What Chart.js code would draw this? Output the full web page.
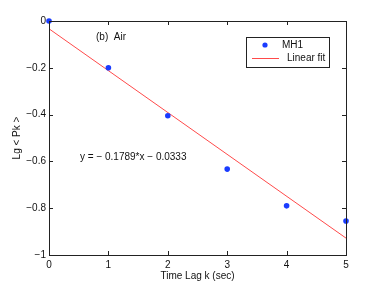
<!DOCTYPE html>
<html>
<head>
<meta charset="utf-8">
<script src="https://cdn.jsdelivr.net/npm/chart.js@4.4.1/dist/chart.umd.min.js"></script>
<style>
  html, body { margin: 0; padding: 0; background: #fff; }
  #wrap { width: 382px; height: 287px; }
</style>
</head>
<body>
<div id="wrap"><canvas id="c" width="382" height="287"></canvas></div>
<script>
// --- Data ---
const lags = [0, 1, 2, 3, 4, 5];
const lgPk = [0, -0.2, -0.405, -0.633, -0.79, -0.855];
const fitSlope = -0.1789;
const fitIntercept = -0.0333;
const fitX = [0, 5];
const xTicks = [0, 1, 2, 3, 4, 5];
const yTicks = [0, -0.2, -0.4, -0.6, -0.8, -1];

const FONT = '"Liberation Sans", Arial, sans-serif';
const fmt = v => (v < 0 ? '\u2212' + String(Math.abs(v)) : String(v));

// box, inward ticks, labels and legend, drawn like a MATLAB axes
const matlabAxes = {
    id: 'matlabAxes',
    afterDraw(chart) {
        const { ctx, chartArea: a, scales: { x, y } } = chart;
        ctx.save();
        ctx.strokeStyle = '#222';
        ctx.lineWidth = 1;
        ctx.strokeRect(Math.round(a.left) + 0.5, Math.round(a.top) + 0.5,
            Math.round(a.right - a.left), Math.round(a.bottom - a.top));

        const tl = 4;
        ctx.beginPath();
        xTicks.forEach(t => {
            const px = Math.round(x.getPixelForValue(t)) + 0.5;
            ctx.moveTo(px, a.bottom); ctx.lineTo(px, a.bottom - tl);
            ctx.moveTo(px, a.top); ctx.lineTo(px, a.top + tl);
        });
        yTicks.forEach(t => {
            const py = Math.round(y.getPixelForValue(t)) + 0.5;
            ctx.moveTo(a.left, py); ctx.lineTo(a.left + tl, py);
            ctx.moveTo(a.right, py); ctx.lineTo(a.right - tl, py);
        });
        ctx.stroke();

        // tick labels
        ctx.fillStyle = '#111';
        ctx.font = '10px ' + FONT;
        ctx.textAlign = 'center';
        ctx.textBaseline = 'top';
        xTicks.forEach(t => ctx.fillText(fmt(t), x.getPixelForValue(t), a.bottom + 5));
        ctx.textAlign = 'right';
        ctx.textBaseline = 'middle';
        yTicks.forEach(t => ctx.fillText(fmt(t), a.left - 3, y.getPixelForValue(t)));

        // axis titles
        ctx.textAlign = 'center';
        ctx.textBaseline = 'middle';
        ctx.fillText('Time Lag k (sec)', (a.left + a.right) / 2, 276);
        ctx.save();
        ctx.translate(17, (a.top + a.bottom) / 2);
        ctx.rotate(-Math.PI / 2);
        ctx.fillText('Lg < Pk >', 0, 0);
        ctx.restore();

        // annotations
        ctx.textAlign = 'left';
        ctx.fillText('(b)  Air', 96, 37);
        ctx.fillText('y = \u2212 0.1789*x \u2212 0.0333', 80, 157);

        // legend
        const lx = 246, ly = 37, lw = 83, lh = 30;
        ctx.fillStyle = '#fff';
        ctx.fillRect(lx, ly, lw, lh);
        ctx.strokeStyle = '#222';
        ctx.strokeRect(lx + 0.5, ly + 0.5, lw, lh);
        ctx.fillStyle = '#1a3cff';
        ctx.beginPath();
        ctx.arc(265, 45, 2.6, 0, Math.PI * 2);
        ctx.fill();
        ctx.strokeStyle = '#ff4a4a';
        ctx.beginPath();
        ctx.moveTo(252, 58.5); ctx.lineTo(279, 58.5);
        ctx.stroke();
        ctx.fillStyle = '#111';
        ctx.fillText('MH1', 282, 45);
        ctx.fillText('Linear fit', 287, 58);
        ctx.restore();
    }
};

new Chart(document.getElementById('c'), {
    type: 'scatter',
    data: {
        datasets: [
            {
                label: 'Linear fit',
                type: 'line',
                data: fitX.map(v => ({ x: v, y: fitSlope * v + fitIntercept })),
                borderColor: '#ff4a4a',
                borderWidth: 1,
                pointRadius: 0,
                fill: false,
                order: 2
            },
            {
                label: 'MH1',
                data: lags.map((v, i) => ({ x: v, y: lgPk[i] })),
                backgroundColor: '#1a3cff',
                borderColor: '#1a3cff',
                pointRadius: 2.8,
                borderWidth: 0,
                clip: false,
                order: 1
            }
        ]
    },
    options: {
        responsive: false,
        animation: false,
        devicePixelRatio: 1,
        layout: { padding: { left: 49, right: 36, top: 21, bottom: 32 } },
        plugins: { legend: { display: false }, tooltip: { enabled: false } },
        scales: {
            x: {
                type: 'linear', min: 0, max: 5, display: false,
                afterFit: s => { s.height = 0; }
            },
            y: {
                type: 'linear', min: -1, max: 0, display: false,
                afterFit: s => { s.width = 0; }
            }
        }
    },
    plugins: [matlabAxes]
});
</script>
</body>
</html>
